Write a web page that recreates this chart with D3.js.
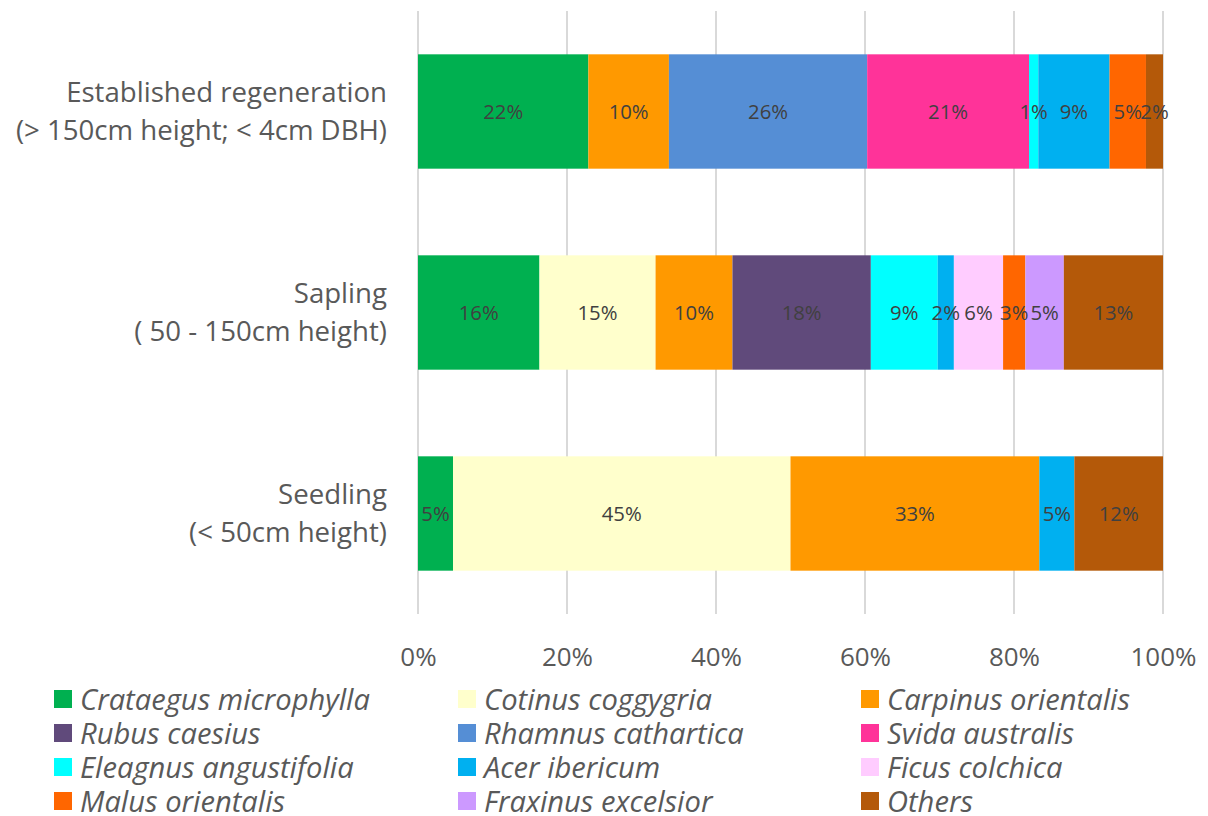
<!DOCTYPE html>
<html>
<head>
<meta charset="utf-8">
<script src="https://cdn.jsdelivr.net/npm/d3@7"></script>
<style>
  body { margin: 0; background: #fff; }
  svg { display: block; font-family: "Open Sans", sans-serif; }
</style>
</head>
<body>
<svg id="chart" width="1208" height="816"></svg>
<script>
// ---- data ----
var stages = ["Established", "Sapling", "Seedling"];
var stageLine1 = ["Established regeneration", "Sapling", "Seedling"];
var stageLine2 = ["(> 150cm height; < 4cm DBH)", "( 50 - 150cm height)", "(< 50cm height)"];

var species = ["Crataegus microphylla", "Cotinus coggygria", "Carpinus orientalis",
  "Rubus caesius", "Rhamnus cathartica", "Svida australis",
  "Eleagnus angustifolia", "Acer ibericum", "Ficus colchica",
  "Malus orientalis", "Fraxinus excelsior", "Others"];

var speciesColours = ["#00B050", "#FFFFCC", "#FF9900",
  "#604A7B", "#558ED5", "#FF3399",
  "#00FFFF", "#00B0F0", "#FFCCFF",
  "#FF6600", "#CC99FF", "#B45909"];

// values per species, order: Established, Sapling, Seedling (0 = absent)
var crataegus = [22.0, 15.8, 4.7];
var cotinus   = [0,    15.1, 45.3];
var carpinus  = [10.4, 10.0, 33.4];
var rubus     = [0,    18.0, 0];
var rhamnus   = [25.6, 0,    0];
var svida     = [20.9, 0,    0];
var eleagnus  = [1.2,  8.7,  0];
var acer      = [9.2,  2.1,  4.7];
var ficus     = [0,    6.4,  0];
var malus     = [4.7,  2.9,  0];
var fraxinus  = [0,    5.0,  0];
var others    = [2.2,  12.9, 11.9];

var seriesValues = [crataegus, cotinus, carpinus, rubus, rhamnus, svida,
  eleagnus, acer, ficus, malus, fraxinus, others];

var tickValues = [0, 0.2, 0.4, 0.6, 0.8, 1];

// ---- layout ----
var svg = d3.select("#chart");
var plotLeft = 418, plotRight = 1163, plotTop = 11, plotBottom = 614;

var x = d3.scaleLinear().domain([0, 1]).range([plotLeft, plotRight]);
var y = d3.scaleBand().domain(stages).range([plotTop, plotBottom])
  .paddingInner(0.431).paddingOuter(0.2155);

// pick a font size so that a sample string gets the wanted width
function fitFontSize(sample, wanted, italic) {
  var t = svg.append("text").attr("font-size", 100)
    .attr("font-style", italic ? "italic" : null).text(sample);
  var w = t.node().getComputedTextLength();
  t.remove();
  return 100 * wanted / w;
}
var catSize = fitFontSize("Established regeneration", 321);
var legendSize = fitFontSize("Crataegus microphylla", 290, true);
var labelSize = fitFontSize("22%", 40);
var tickSize = fitFontSize("100%", 66);

// build rows for d3.stack, normalised to 100%
var rows = stages.map(function(s, i) {
  var row = { stage: s };
  var total = d3.sum(seriesValues, function(v) { return v[i]; });
  species.forEach(function(sp, j) {
    row[sp] = seriesValues[j][i] / total;
    row["raw_" + sp] = seriesValues[j][i];
  });
  return row;
});

var layers = d3.stack().keys(species)(rows);

// gridlines
svg.append("g").selectAll("line")
  .data(tickValues)
  .join("line")
  .attr("x1", function(d) { return x(d); })
  .attr("x2", function(d) { return x(d); })
  .attr("y1", plotTop)
  .attr("y2", plotBottom)
  .attr("stroke", "#d9d9d9")
  .attr("stroke-width", 2);

// bars
var layerG = svg.append("g").selectAll("g")
  .data(layers)
  .join("g")
  .attr("fill", function(d, i) { return speciesColours[i]; });

layerG.selectAll("rect")
  .data(function(d) { return d.filter(function(p) { return p[1] - p[0] > 0; }); })
  .join("rect")
  .attr("x", function(d) { return x(d[0]); })
  .attr("width", function(d) { return x(d[1]) - x(d[0]); })
  .attr("y", function(d) { return y(d.data.stage); })
  .attr("height", y.bandwidth());

// data labels
var labelG = svg.append("g");
layers.forEach(function(layer) {
  layer.forEach(function(p) {
    var raw = p.data["raw_" + layer.key];
    if (!raw) return;
    labelG.append("text")
      .attr("x", x((p[0] + p[1]) / 2))
      .attr("y", y(p.data.stage) + y.bandwidth() / 2)
      .attr("dy", "0.36em")
      .attr("text-anchor", "middle")
      .attr("fill", "#404040")
      .attr("font-size", labelSize)
      .text(Math.round(raw) + "%");
  });
});

// x axis tick labels
var axis = d3.axisBottom(x).tickValues(tickValues).tickSize(0)
  .tickFormat(d3.format(".0%"));
var axisG = svg.append("g")
  .attr("transform", "translate(0,666)")
  .call(axis);
axisG.select(".domain").remove();
axisG.selectAll(".tick text")
  .attr("font-family", "'Open Sans', sans-serif")
  .attr("font-size", tickSize)
  .attr("fill", "#595959")
  .attr("y", 0)
  .attr("dy", 0);

// category labels
var catG = svg.append("g");
stages.forEach(function(s, i) {
  var cy = y(s) + y.bandwidth() / 2;
  catG.append("text")
    .attr("x", 387).attr("y", cy - 10)
    .attr("text-anchor", "end")
    .attr("fill", "#595959")
    .attr("font-size", catSize)
    .text(stageLine1[i]);
  catG.append("text")
    .attr("x", 387).attr("y", cy + 28.5)
    .attr("text-anchor", "end")
    .attr("fill", "#595959")
    .attr("font-size", catSize)
    .text(stageLine2[i]);
});

// legend: 3 columns x 4 rows
var legendCols = [54, 458, 861];
var legendRowY = d3.scaleLinear().domain([0, 3]).range([699, 801]);
var legend = svg.append("g").selectAll("g")
  .data(species)
  .join("g")
  .attr("transform", function(d, i) {
    return "translate(" + legendCols[i % 3] + "," + legendRowY(Math.floor(i / 3)) + ")";
  });
legend.append("rect")
  .attr("x", 0).attr("y", -9)
  .attr("width", 18).attr("height", 18)
  .attr("fill", function(d, i) { return speciesColours[i]; });
legend.append("text")
  .attr("x", 26).attr("y", 0)
  .attr("dy", "0.36em")
  .attr("font-size", legendSize)
  .attr("font-style", "italic")
  .attr("fill", "#595959")
  .text(function(d) { return d; });
</script>
</body>
</html>
